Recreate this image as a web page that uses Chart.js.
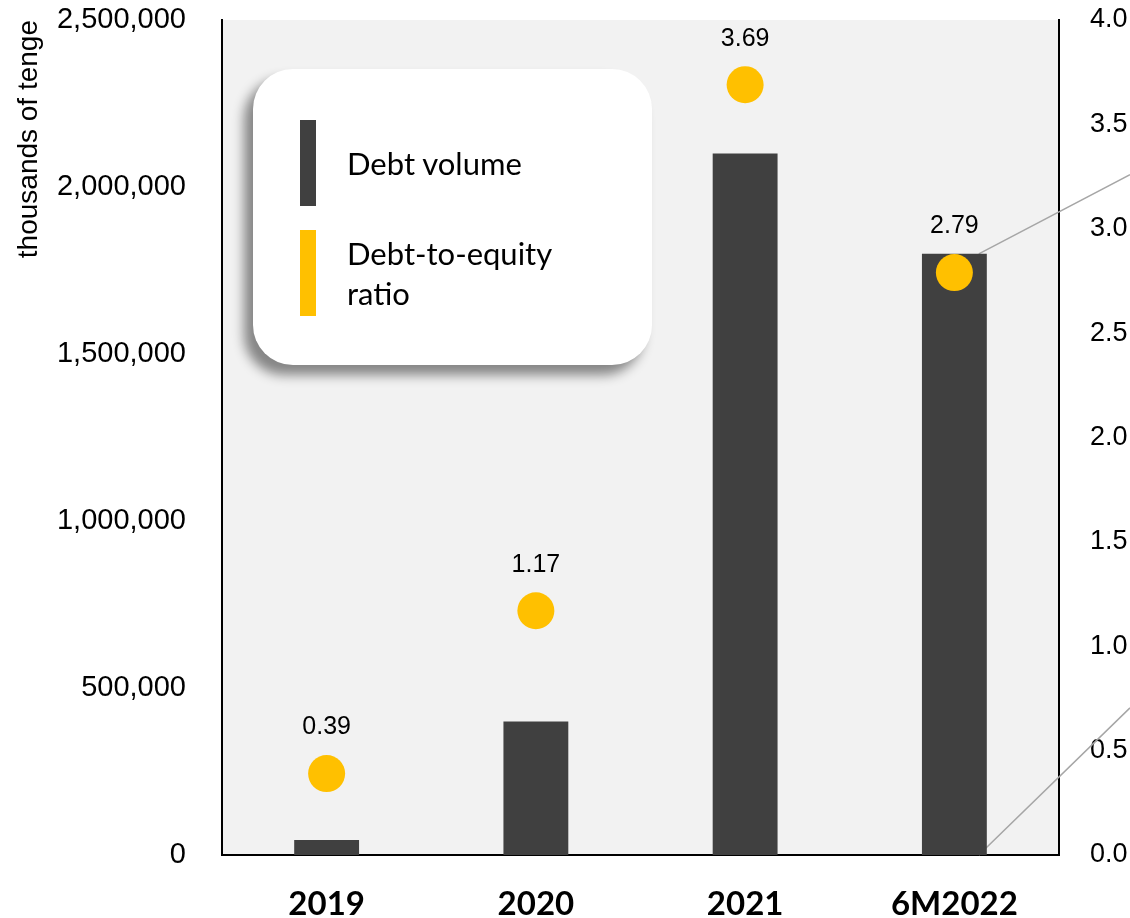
<!DOCTYPE html>
<html>
<head>
<meta charset="utf-8">
<script src="https://cdn.jsdelivr.net/npm/chart.js@4.4.0/dist/chart.umd.min.js"></script>
<style>
  html, body { margin: 0; padding: 0; background: #fff; }
  #wrap { position: relative; width: 1130px; height: 918px; }
  #chart { position: absolute; left: 0; top: 0; }
  #legend {
    position: absolute; left: 253px; top: 69px; width: 399px; height: 296px;
    background: #fff; border-radius: 40px;
    box-shadow: -9px 10px 12px rgba(0, 0, 0, 0.45);
    font-family: Lato, "Open Sans", sans-serif; font-size: 31px; color: #000;
  }
  .item { position: absolute; left: 47px; }
  .swatch { position: absolute; left: 0; top: 0; width: 16px; height: 86px; }
  .label { position: absolute; left: 47px; width: 280px; line-height: 40px; white-space: nowrap; }
</style>
</head>
<body>
<div id="wrap">
  <canvas id="chart" width="1130" height="918"></canvas>
  <div id="legend"></div>
</div>
<script>
// dados
const categories = ['2019', '2020', '2021', '6M2022'];
const debtVolume = [45000, 400000, 2100000, 1800000];
const debtToEquity = [0.39, 1.17, 3.69, 2.79];
const legendLines = [['Debt volume'], ['Debt-to-equity', 'ratio']];

const darkGray = '#404040';
const yellow = '#FFC000';
const tickFont = '"Liberation Sans", Arial, sans-serif';

// fundo cinza da área do gráfico
const plotBg = {
    id: 'plotBg',
    beforeDraw(chart) {
        const a = chart.chartArea;
        const ctx = chart.ctx;
        ctx.save();
        ctx.fillStyle = '#f2f2f2';
        ctx.fillRect(a.left, a.top, a.right - a.left, a.bottom - a.top);
        ctx.restore();
    }
};

// linhas cinzas que saem da última barra
const calloutLines = {
    id: 'calloutLines',
    beforeDatasetsDraw(chart) {
        const bar = chart.getDatasetMeta(0).data[3];
        if (!bar) return;
        const ctx = chart.ctx;
        const x0 = bar.x + bar.width / 2 - 8;
        const w = chart.width;
        ctx.save();
        ctx.strokeStyle = '#a6a6a6';
        ctx.lineWidth = 1.5;
        ctx.beginPath();
        ctx.moveTo(x0, bar.y);
        ctx.lineTo(w, bar.y - 0.523 * (w - x0));
        ctx.moveTo(x0, bar.base);
        ctx.lineTo(w, bar.base - 0.973 * (w - x0));
        ctx.stroke();
        ctx.restore();
    }
};

// rótulos acima dos pontos
const pointLabels = {
    id: 'pointLabels',
    afterDatasetsDraw(chart) {
        const ctx = chart.ctx;
        const meta = chart.getDatasetMeta(1);
        ctx.save();
        ctx.font = '25px ' + tickFont;
        ctx.fillStyle = '#000';
        ctx.textAlign = 'center';
        ctx.textBaseline = 'middle';
        meta.data.forEach((pt, i) => {
            ctx.fillText(debtToEquity[i].toFixed(2), pt.x, pt.y - 46);
        });
        ctx.restore();
    }
};

// eixo vertical sem folga extra em cima/baixo
function fixVertical(width) {
    return function(scale) {
        scale.width = width;
        scale.paddingTop = 0;
        scale.paddingBottom = 0;
    };
}

const ctx = document.getElementById('chart').getContext('2d');
const chart = new Chart(ctx, {
    data: {
        labels: categories,
        datasets: [{
            type: 'bar',
            label: 'Debt volume',
            data: debtVolume,
            backgroundColor: darkGray,
            barPercentage: 0.31,
            categoryPercentage: 1,
            yAxisID: 'y',
            order: 2
        }, {
            type: 'line',
            label: 'Debt-to-equity ratio',
            data: debtToEquity,
            showLine: false,
            clip: false,
            pointRadius: 18.5,
            pointHoverRadius: 18.5,
            pointBackgroundColor: yellow,
            pointBorderWidth: 0,
            backgroundColor: yellow,
            borderColor: yellow,
            yAxisID: 'y1',
            order: 1
        }]
    },
    options: {
        responsive: false,
        animation: false,
        layout: { autoPadding: false, padding: { top: 20 } },
        plugins: {
            legend: { display: false },
            tooltip: { enabled: false }
        },
        scales: {
            x: {
                grid: { display: false },
                border: { display: true, color: '#000', width: 2 },
                ticks: {
                    color: '#000',
                    padding: 22,
                    font: { family: 'Lato, "Open Sans", sans-serif', size: 33, weight: 'bold' }
                },
                afterFit(scale) {
                    scale.height = 63;
                    scale.paddingLeft = 0;
                    scale.paddingRight = 0;
                }
            },
            y: {
                position: 'left',
                min: 0,
                max: 2500000,
                grid: { display: false },
                border: { display: true, color: '#000', width: 2 },
                title: {
                    display: true,
                    text: 'thousands of tenge',
                    align: 'end',
                    color: '#000',
                    padding: { top: 12, bottom: 0 },
                    font: { family: tickFont, size: 28 }
                },
                ticks: {
                    stepSize: 500000,
                    color: '#000',
                    padding: 28,
                    font: { family: tickFont, size: 29 },
                    callback: v => v.toLocaleString('en-US')
                },
                afterFit: fixVertical(222)
            },
            y1: {
                position: 'right',
                min: 0,
                max: 4,
                grid: { display: false },
                border: { display: true, color: '#000', width: 2 },
                ticks: {
                    stepSize: 0.5,
                    color: '#000',
                    padding: 23,
                    font: { family: tickFont, size: 27 },
                    callback: v => v.toFixed(1)
                },
                afterFit: fixVertical(71)
            }
        }
    },
    plugins: [plotBg, calloutLines, pointLabels]
});

// legenda montada a partir dos datasets
const legendEl = document.getElementById('legend');
chart.data.datasets.forEach((ds, i) => {
    const item = document.createElement('div');
    item.className = 'item';
    item.style.top = (51 + i * 110) + 'px';
    const sw = document.createElement('div');
    sw.className = 'swatch';
    sw.style.background = ds.backgroundColor;
    const lb = document.createElement('div');
    lb.className = 'label';
    const lines = legendLines[i];
    lb.style.top = (43 - lines.length * 20) + 'px';
    lb.innerHTML = lines.join('<br>');
    item.appendChild(sw);
    item.appendChild(lb);
    legendEl.appendChild(item);
});
</script>
</body>
</html>
